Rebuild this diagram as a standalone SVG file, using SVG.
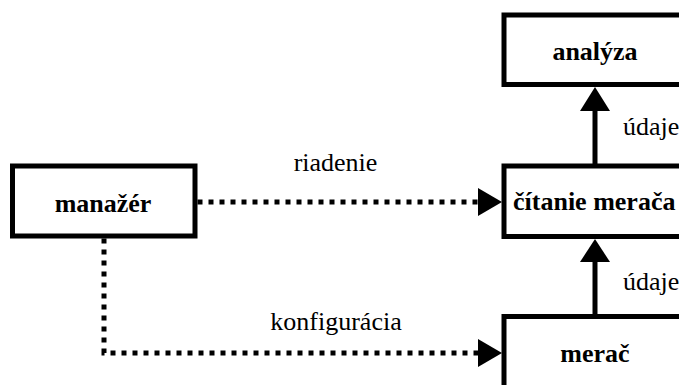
<svg xmlns="http://www.w3.org/2000/svg" width="679" height="385" viewBox="0 0 679 385">
  <style>
    .box { fill: #ffffff; stroke: #000000; stroke-width: 5; }
    .name { font-family: "Liberation Serif", "Times New Roman", serif; font-weight: bold; font-size: 26px; fill: #000000; }
    .lbl { font-family: "Liberation Serif", "Times New Roman", serif; font-size: 26px; fill: #000000; }
    .solid { fill: none; stroke: #000000; stroke-width: 5; }
    .dotted { fill: none; stroke: #000000; stroke-width: 5; stroke-dasharray: 5 6; }
    .head { fill: #000000; stroke: none; }
  </style>
  <rect width="679" height="385" fill="#ffffff"/>

  <g id="analyza">
    <rect class="box" x="504" y="15" width="182" height="69.5"/>
    <text class="name" x="595" y="60" text-anchor="middle">analýza</text>
  </g>

  <g id="citanie-meraca">
    <rect class="box" x="504" y="166" width="182" height="70.5"/>
    <text class="name" x="513" y="210">čítanie merača</text>
  </g>

  <g id="manazer">
    <rect class="box" x="12.5" y="166" width="182.5" height="70"/>
    <text class="name" x="103" y="212" text-anchor="middle">manažér</text>
  </g>

  <g id="merac">
    <rect class="box" x="504" y="316.5" width="182" height="80"/>
    <text class="name" x="595" y="362" text-anchor="middle">merač</text>
  </g>

  <g id="connectors">
    <!-- údaje: čítanie merača -> analýza -->
    <line class="solid" x1="595" y1="166" x2="595" y2="108"/>
    <polygon class="head" points="595,87 580,111 610,111"/>
    <text class="lbl" x="623" y="135">údaje</text>

    <!-- údaje: merač -> čítanie merača -->
    <line class="solid" x1="595" y1="316.5" x2="595" y2="259"/>
    <polygon class="head" points="595,239 580,262 610,262"/>
    <text class="lbl" x="623" y="290">údaje</text>

    <!-- riadenie: manažér -> čítanie merača -->
    <line class="dotted" x1="197.5" y1="202" x2="480" y2="202"/>
    <polygon class="head" points="502,202 478,188 478,216"/>
    <text class="lbl" x="335.5" y="171" text-anchor="middle">riadenie</text>

    <!-- konfigurácia: manažér -> merač -->
    <polyline class="dotted" points="104,238.5 104,353 478,353"/>
    <polygon class="head" points="502,353 478,339 478,367"/>
    <text class="lbl" x="336" y="330" text-anchor="middle">konfigurácia</text>
  </g>
</svg>
